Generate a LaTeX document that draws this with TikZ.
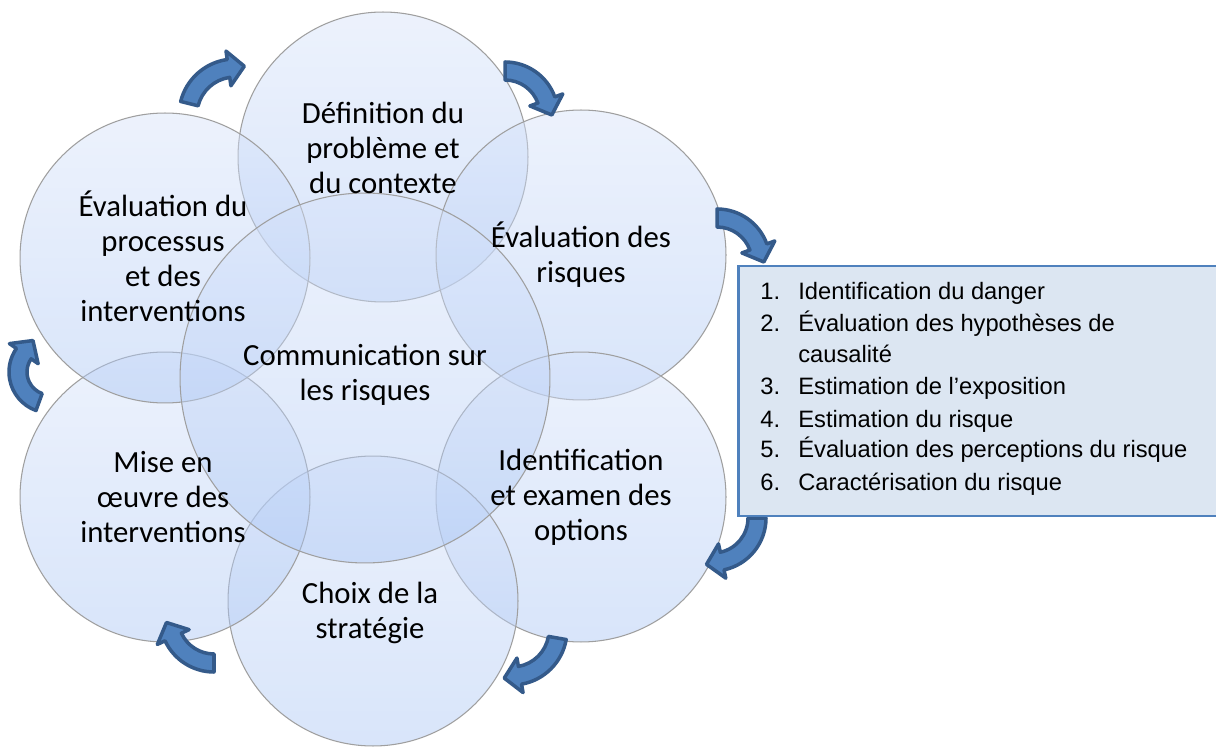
\documentclass[tikz,border=0pt]{standalone}
\usepackage{fontspec}
\setmainfont{Carlito}
\newfontfamily\listfont{Liberation Sans}
\usetikzlibrary{calc}

\definecolor{arrowfill}{RGB}{79,129,189}
\definecolor{arrowline}{RGB}{52,90,138}
\definecolor{bubbletop}{RGB}{215,227,250}
\definecolor{bubblebot}{RGB}{170,198,245}
\definecolor{listfill}{RGB}{220,230,242}
\definecolor{listline}{RGB}{79,129,189}

\tikzset{
  bubble/.style={circle, inner sep=0pt, minimum size=#1, draw=gray!75, line width=0.6pt,
    top color=bubbletop, bottom color=bubblebot, fill opacity=0.45},
  bubbletext/.style={align=center, font=\fontsize{17.5}{19.9}\selectfont},
  listitem/.style={anchor=base west, inner sep=0pt, font=\listfont\fontsize{13.5}{16}\selectfont},
  bendarrow/.style={fill=arrowfill, draw=arrowline, line width=2pt, line join=round}
}

\newcommand{\bendarrow}[6]{%
  \pgfmathsetmacro\arcout{#3+9}\pgfmathsetmacro\arcin{#3-9}%
  \pgfmathsetmacro\headout{#3+17.5}\pgfmathsetmacro\headin{#3-17.5}%
  \pgfmathsetmacro\tipdir{#5+90}%
  \filldraw[bendarrow] ($(#1,#2)+(#4:\arcout)$) arc[start angle=#4, end angle=#5, radius=\arcout]
    -- ($(#1,#2)+(#5:\headout)$) -- ($(#1,#2)+(#5:#3)+(\tipdir:#6)$) -- ($(#1,#2)+(#5:\headin)$)
    -- ($(#1,#2)+(#5:\arcin)$) arc[start angle=#5, end angle=#4, radius=\arcin] -- cycle;}

\begin{document}
\begin{tikzpicture}[x=0.02cm, y=-0.02cm]
  \useasboundingbox[fill=white] (0,0) rectangle (1216,749);

  \foreach \name/\x/\y in {top/383/157, ur/581/255, lr/581/497, bot/373/601, ll/165/497, ul/165/258}{
    \node[bubble=5.8cm] (\name) at (\x,\y) {};
  }
  \node[bubble=7.4cm] (mid) at (365,378) {};

  \node[bubbletext] (toptext) at (383,148) {Définition du\\problème et\\du contexte};
  \node[bubbletext] (urtext) at (581,255) {Évaluation des\\risques};
  \node[bubbletext] (lrtext) at (581,497) {Identification\\et examen des\\options};
  \node[bubbletext] (bottext) at (370,613) {Choix de la\\stratégie};
  \node[bubbletext] (lltext) at (163,497) {Mise en\\œuvre des\\interventions};
  \node[bubbletext] (ultext) at (163,256) {Évaluation du\\processus\\et des\\interventions};
  \node[bubbletext] (midtext) at (365,375) {Communication sur\\les risques};

  \foreach \cx/\cy/\r/\a/\b/\l in {235/115/47/194/262/16, 505/115/44/270/340/16, 717/262/44/270/340/16,
      713/518/44/0/78/16, 512/630/46/10/80/16, 214/618/45/90/155/16, 50/372/32/110/215/16}{
    \bendarrow{\cx}{\cy}{\r}{\a}{\b}{\l}
  }

  \draw[fill=listfill, draw=listline, line width=1.7pt] (738,266) rectangle (1240,516);
  \foreach \n/\t/\y in {1./Identification du danger/300, 2./Évaluation des hypothèses de/332, /causalité/363,
      3./Estimation de l’exposition/395, 4./Estimation du risque/427,
      5./Évaluation des perceptions du risque/458, 6./Caractérisation du risque/490}{
    \node[listitem] (num\y) at (760,\y) {\n};
    \node[listitem] (item\y) at (798,\y) {\t};
  }
\end{tikzpicture}
\end{document}
